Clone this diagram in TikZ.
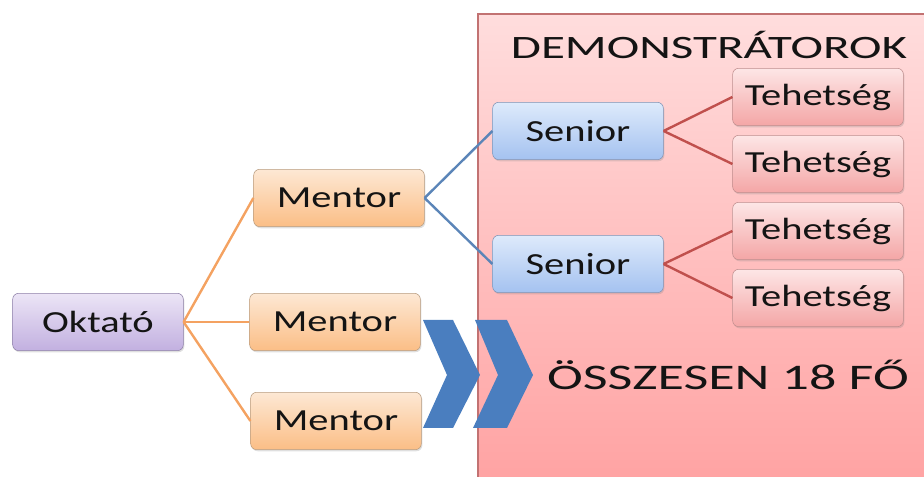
\documentclass[tikz,border=0pt]{standalone}
\usepackage{fontspec}
\setmainfont[FakeStretch=1.32]{Carlito}
\newfontfamily\widefont[FakeStretch=1.5]{Carlito}
\usetikzlibrary{shadows}

\definecolor{oktTop}{HTML}{ECE5F6}
\definecolor{oktBot}{HTML}{C2B0E0}
\definecolor{oktLine}{HTML}{8E81A8}
\definecolor{menTop}{HTML}{FDE8D4}
\definecolor{menBot}{HTML}{FBBE86}
\definecolor{menLine}{HTML}{B89C80}
\definecolor{senTop}{HTML}{DEEAFB}
\definecolor{senBot}{HTML}{A4C2F0}
\definecolor{senLine}{HTML}{7F93B5}
\definecolor{tehTop}{HTML}{FDE6E6}
\definecolor{tehBot}{HTML}{F4A6A6}
\definecolor{tehLine}{HTML}{BF8E8E}
\definecolor{areaTop}{HTML}{FFDDDD}
\definecolor{areaBot}{HTML}{FFA3A3}
\definecolor{areaLine}{HTML}{C27272}
\definecolor{orangeLink}{HTML}{F4A261}
\definecolor{blueLink}{HTML}{5B85B8}
\definecolor{redLink}{HTML}{C0504D}
\definecolor{chevron}{HTML}{4A7EBF}

\begin{document}
\begin{tikzpicture}[x=0.75pt,y=0.75pt,
    box/.style={rounded corners=4.5pt, minimum width=128pt, minimum height=43pt,
      inner sep=0pt, font=\fontsize{23}{27}\selectfont, text=black!92,
      drop shadow={opacity=0.25,shadow xshift=0.8pt,shadow yshift=-1.2pt}},
    oktbox/.style={box, draw=oktLine, top color=oktTop, bottom color=oktBot},
    menbox/.style={box, draw=menLine, top color=menTop, bottom color=menBot},
    senbox/.style={box, draw=senLine, top color=senTop, bottom color=senBot},
    tehbox/.style={box, draw=tehLine, top color=tehTop, bottom color=tehBot},
    link/.style={line width=1.8pt},
    chev/.style={fill=chevron, draw=none}]
    \useasboundingbox (0,0) rectangle (924,477);

    % Demonstrator area
    \shade[top color=areaTop, bottom color=areaBot, draw=areaLine, line width=0.8pt]
      (478,-3) rectangle (928,463);
    \node[font=\widefont\fontsize{24.5}{29}\selectfont, text=black!92] (title) at (709,432) {DEMONSTRÁTOROK};

    % Chevrons
    \fill[chev] (423,157) -- (453,157) -- (480,102) -- (453,49) -- (423,49) -- (447,102) -- cycle;
    \fill[chev] (475,157) -- (507,157) -- (533,102) -- (507,49) -- (473,49) -- (498,102) -- cycle;

    \node[font=\widefont\fontsize{27}{32}\selectfont, text=black!92] (total) at (728,102) {ÖSSZESEN 18 FŐ};

    % Boxes
    \node[oktbox] (okt) at (98,155) {Oktató};
    \node[menbox] (men1) at (339,279) {Mentor};
    \node[menbox] (men2) at (335,155) {Mentor};
    \node[menbox] (men3) at (336,56) {Mentor};
    \node[senbox] (sen1) at (578,346) {Senior};
    \node[senbox] (sen2) at (578,213) {Senior};
    \node[tehbox] (teh1) at (818,380) {Tehetség};
    \node[tehbox] (teh2) at (818,313) {Tehetség};
    \node[tehbox] (teh3) at (818,246) {Tehetség};
    \node[tehbox] (teh4) at (818,179) {Tehetség};

    % Links
    \foreach \m in {men1,men2,men3}
      \draw[link, orangeLink] (okt.east) -- (\m.west);
    \foreach \s in {sen1,sen2}
      \draw[link, blueLink] (men1.east) -- (\s.west);
    \draw[link, redLink] (sen1.east) -- (teh1.west);
    \draw[link, redLink] (sen1.east) -- (teh2.west);
    \draw[link, redLink] (sen2.east) -- (teh3.west);
    \draw[link, redLink] (sen2.east) -- (teh4.west);
\end{tikzpicture}
\end{document}
